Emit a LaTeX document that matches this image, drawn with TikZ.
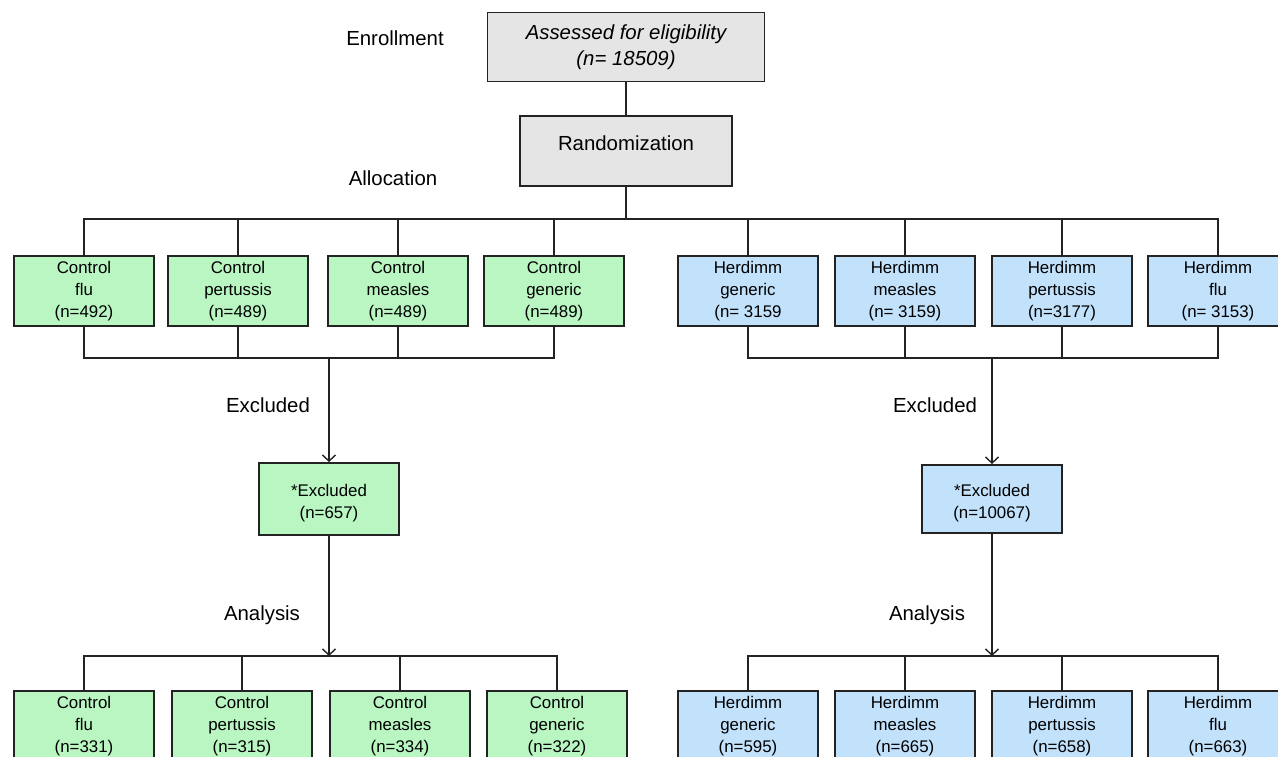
\documentclass[tikz,border=0pt]{standalone}
\usepackage{fontspec}
\setmainfont{Liberation Sans}
\usetikzlibrary{arrows.meta}
\definecolor{ctrlgreen}{RGB}{185,246,194}
\definecolor{herdblue}{RGB}{194,225,251}
\definecolor{boxgray}{RGB}{229,229,229}
\definecolor{linegray}{RGB}{35,35,35}
\begin{document}
\begin{tikzpicture}[x=0.02cm, y=-0.02cm,
                conn/.style={draw=linegray, line width=0.8pt},
                arm/.style={conn, -{Straight Barb[length=3.5pt,width=7.5pt]}},
                stagebox/.style={draw=linegray, line width=1.1pt, minimum width=2.8cm, minimum height=1.4cm, align=center, inner sep=2pt, font=\fontsize{9.6}{12.5}\selectfont},
                ctrl/.style={stagebox, fill=ctrlgreen},
                herd/.style={stagebox, fill=herdblue},
                greybox/.style={stagebox, fill=boxgray, font=\fontsize{11.6}{14.7}\selectfont},
                phase/.style={font=\fontsize{11.6}{14}\selectfont}]
                \useasboundingbox (0,0) rectangle (1278,757);

                \node[phase] (enrol) at (395,38) {Enrollment};
                \node[greybox, minimum width=5.54cm, minimum height=1.38cm, font=\fontsize{11.6}{14.7}\selectfont\itshape] (elig) at (626,47) {Assessed for eligibility\\(n= 18509)};
                \node[greybox, minimum width=4.24cm, text height=8.5pt, text depth=8.5pt] (rand) at (626,151) {Randomization};
                \node[phase] (alloc) at (393,178) {Allocation};
                \coordinate (split) at (626,219);

                \draw[conn] (elig) -- (rand);
                \draw[conn] (rand) -- (split);

                \node[ctrl] (cflu) at (84,291) {Control\\flu\\(n=492)};
                \node[ctrl] (cper) at (238,291) {Control\\pertussis\\(n=489)};
                \node[ctrl] (cmea) at (398,291) {Control\\measles\\(n=489)};
                \node[ctrl] (cgen) at (554,291) {Control\\generic\\(n=489)};

                \node[herd] (hgen) at (748,291) {Herdimm\\generic\\(n= 3159};
                \node[herd] (hmea) at (905,291) {Herdimm\\measles\\(n= 3159)};
                \node[herd] (hper) at (1062,291) {Herdimm\\pertussis\\(n=3177)};
                \node[herd] (hflu) at (1218,291) {Herdimm\\flu\\(n= 3153)};

                \draw[conn] (split) -| (cflu.north);
                \draw[conn] (split) -| (cper.north);
                \draw[conn] (split) -| (cmea.north);
                \draw[conn] (split) -| (cgen.north);
                \draw[conn] (split) -| (hgen.north);
                \draw[conn] (split) -| (hmea.north);
                \draw[conn] (split) -| (hper.north);
                \draw[conn] (split) -| (hflu.north);

                \coordinate (cjoin) at (329,358);
                \coordinate (hjoin) at (992,358);
                \draw[conn] (cflu.south) |- (cjoin);
                \draw[conn] (cper.south) |- (cjoin);
                \draw[conn] (cmea.south) |- (cjoin);
                \draw[conn] (cgen.south) |- (cjoin);
                \draw[conn] (hgen.south) |- (hjoin);
                \draw[conn] (hmea.south) |- (hjoin);
                \draw[conn] (hper.south) |- (hjoin);
                \draw[conn] (hflu.south) |- (hjoin);

                \node[phase] (cexlab) at (268,405) {Excluded};
                \node[phase] (hexlab) at (935,405) {Excluded};

                \node[ctrl, minimum height=1.44cm] (cexc) at (329,499) {\rule{0pt}{12pt}*Excluded\\(n=657)};
                \node[herd, minimum height=1.36cm] (hexc) at (992,499) {\rule{0pt}{12pt}*Excluded\\(n=10067)};

                \draw[arm] (cjoin) -- (cexc.north);
                \draw[arm] (hjoin) -- (hexc.north);

                \node[phase] (canlab) at (262,615) {Analysis};
                \node[phase] (hanlab) at (927,615) {Analysis};

                \coordinate (cana) at (329,656);
                \coordinate (hana) at (992,656);
                \draw[arm] (cexc.south) -- (cana);
                \draw[arm] (hexc.south) -- (hana);

                \node[ctrl] (cflu2) at (84,726) {Control\\flu\\(n=331)};
                \node[ctrl] (cper2) at (242,726) {Control\\pertussis\\(n=315)};
                \node[ctrl] (cmea2) at (400,726) {Control\\measles\\(n=334)};
                \node[ctrl] (cgen2) at (557,726) {Control\\generic\\(n=322)};

                \node[herd] (hgen2) at (748,726) {Herdimm\\generic\\(n=595)};
                \node[herd] (hmea2) at (905,726) {Herdimm\\measles\\(n=665)};
                \node[herd] (hper2) at (1062,726) {Herdimm\\pertussis\\(n=658)};
                \node[herd] (hflu2) at (1218,726) {Herdimm\\flu\\(n=663)};

                \draw[conn] (cana) -| (cflu2.north);
                \draw[conn] (cana) -| (cper2.north);
                \draw[conn] (cana) -| (cmea2.north);
                \draw[conn] (cana) -| (cgen2.north);
                \draw[conn] (hana) -| (hgen2.north);
                \draw[conn] (hana) -| (hmea2.north);
                \draw[conn] (hana) -| (hper2.north);
                \draw[conn] (hana) -| (hflu2.north);
\end{tikzpicture}
\end{document}
